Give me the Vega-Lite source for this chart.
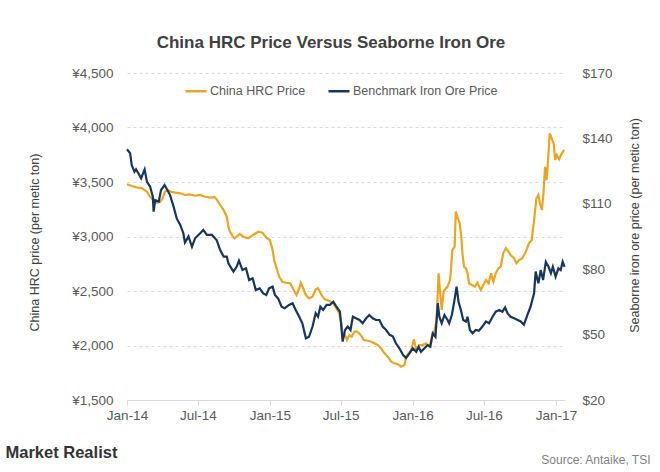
{
  "$schema": "https://vega.github.io/schema/vega-lite/v6.json",
  "width": 438,
  "height": 327,
  "autosize": {"type": "none"},
  "padding": {"left": 127, "top": 73, "right": 95, "bottom": 72},
  "background": "white",
  "title": {"text": "China HRC Price Versus Seaborne Iron Ore", "fontSize": 17, "font": "Liberation Sans", "fontWeight": "bold", "color": "#404040", "anchor": "middle", "frame": "group", "offset": 14, "dx": -15},
  "config": {"view": {"stroke": null}, "font": "Liberation Sans"},
  "datasets": {
    "hrc": [
      {"date": "2014-01-01", "series": "China HRC Price", "value": 3480},
      {"date": "2014-01-13", "series": "China HRC Price", "value": 3463},
      {"date": "2014-01-26", "series": "China HRC Price", "value": 3451},
      {"date": "2014-02-08", "series": "China HRC Price", "value": 3442},
      {"date": "2014-02-21", "series": "China HRC Price", "value": 3411},
      {"date": "2014-03-01", "series": "China HRC Price", "value": 3365},
      {"date": "2014-03-10", "series": "China HRC Price", "value": 3328},
      {"date": "2014-03-18", "series": "China HRC Price", "value": 3310},
      {"date": "2014-03-27", "series": "China HRC Price", "value": 3319},
      {"date": "2014-04-02", "series": "China HRC Price", "value": 3350},
      {"date": "2014-04-08", "series": "China HRC Price", "value": 3411},
      {"date": "2014-04-15", "series": "China HRC Price", "value": 3427},
      {"date": "2014-04-24", "series": "China HRC Price", "value": 3411},
      {"date": "2014-05-04", "series": "China HRC Price", "value": 3402},
      {"date": "2014-05-17", "series": "China HRC Price", "value": 3396},
      {"date": "2014-05-29", "series": "China HRC Price", "value": 3381},
      {"date": "2014-06-11", "series": "China HRC Price", "value": 3387},
      {"date": "2014-06-24", "series": "China HRC Price", "value": 3374},
      {"date": "2014-07-07", "series": "China HRC Price", "value": 3381},
      {"date": "2014-07-20", "series": "China HRC Price", "value": 3365},
      {"date": "2014-08-01", "series": "China HRC Price", "value": 3356},
      {"date": "2014-08-13", "series": "China HRC Price", "value": 3360},
      {"date": "2014-08-18", "series": "China HRC Price", "value": 3341},
      {"date": "2014-08-27", "series": "China HRC Price", "value": 3289},
      {"date": "2014-09-05", "series": "China HRC Price", "value": 3243},
      {"date": "2014-09-13", "series": "China HRC Price", "value": 3182},
      {"date": "2014-09-17", "series": "China HRC Price", "value": 3090},
      {"date": "2014-09-21", "series": "China HRC Price", "value": 3044},
      {"date": "2014-09-30", "series": "China HRC Price", "value": 2993},
      {"date": "2014-10-03", "series": "China HRC Price", "value": 2983},
      {"date": "2014-10-16", "series": "China HRC Price", "value": 3023},
      {"date": "2014-10-25", "series": "China HRC Price", "value": 2998},
      {"date": "2014-11-06", "series": "China HRC Price", "value": 2983},
      {"date": "2014-11-19", "series": "China HRC Price", "value": 3014},
      {"date": "2014-12-02", "series": "China HRC Price", "value": 3044},
      {"date": "2014-12-13", "series": "China HRC Price", "value": 3035},
      {"date": "2014-12-23", "series": "China HRC Price", "value": 2989},
      {"date": "2015-01-01", "series": "China HRC Price", "value": 2968},
      {"date": "2015-01-08", "series": "China HRC Price", "value": 2876},
      {"date": "2015-01-12", "series": "China HRC Price", "value": 2784},
      {"date": "2015-01-18", "series": "China HRC Price", "value": 2708},
      {"date": "2015-01-25", "series": "China HRC Price", "value": 2631},
      {"date": "2015-02-02", "series": "China HRC Price", "value": 2585},
      {"date": "2015-02-12", "series": "China HRC Price", "value": 2576},
      {"date": "2015-02-22", "series": "China HRC Price", "value": 2570},
      {"date": "2015-03-03", "series": "China HRC Price", "value": 2509},
      {"date": "2015-03-10", "series": "China HRC Price", "value": 2463},
      {"date": "2015-03-17", "series": "China HRC Price", "value": 2525},
      {"date": "2015-03-21", "series": "China HRC Price", "value": 2576},
      {"date": "2015-03-27", "series": "China HRC Price", "value": 2525},
      {"date": "2015-04-03", "series": "China HRC Price", "value": 2463},
      {"date": "2015-04-11", "series": "China HRC Price", "value": 2433},
      {"date": "2015-04-20", "series": "China HRC Price", "value": 2448},
      {"date": "2015-04-28", "series": "China HRC Price", "value": 2515},
      {"date": "2015-05-04", "series": "China HRC Price", "value": 2525},
      {"date": "2015-05-13", "series": "China HRC Price", "value": 2463},
      {"date": "2015-05-21", "series": "China HRC Price", "value": 2424},
      {"date": "2015-06-01", "series": "China HRC Price", "value": 2411},
      {"date": "2015-06-12", "series": "China HRC Price", "value": 2387},
      {"date": "2015-06-20", "series": "China HRC Price", "value": 2341},
      {"date": "2015-06-27", "series": "China HRC Price", "value": 2296},
      {"date": "2015-07-03", "series": "China HRC Price", "value": 2204},
      {"date": "2015-07-06", "series": "China HRC Price", "value": 2081},
      {"date": "2015-07-12", "series": "China HRC Price", "value": 2096},
      {"date": "2015-07-17", "series": "China HRC Price", "value": 2050},
      {"date": "2015-07-23", "series": "China HRC Price", "value": 2096},
      {"date": "2015-07-29", "series": "China HRC Price", "value": 2081},
      {"date": "2015-08-05", "series": "China HRC Price", "value": 2127},
      {"date": "2015-08-12", "series": "China HRC Price", "value": 2127},
      {"date": "2015-08-21", "series": "China HRC Price", "value": 2096},
      {"date": "2015-08-29", "series": "China HRC Price", "value": 2050},
      {"date": "2015-09-08", "series": "China HRC Price", "value": 2044},
      {"date": "2015-09-17", "series": "China HRC Price", "value": 2035},
      {"date": "2015-09-25", "series": "China HRC Price", "value": 2020},
      {"date": "2015-10-04", "series": "China HRC Price", "value": 2004},
      {"date": "2015-10-12", "series": "China HRC Price", "value": 1974},
      {"date": "2015-10-21", "series": "China HRC Price", "value": 1928},
      {"date": "2015-10-29", "series": "China HRC Price", "value": 1897},
      {"date": "2015-11-07", "series": "China HRC Price", "value": 1851},
      {"date": "2015-11-15", "series": "China HRC Price", "value": 1837},
      {"date": "2015-11-24", "series": "China HRC Price", "value": 1828},
      {"date": "2015-12-02", "series": "China HRC Price", "value": 1806},
      {"date": "2015-12-11", "series": "China HRC Price", "value": 1821},
      {"date": "2015-12-15", "series": "China HRC Price", "value": 1897},
      {"date": "2015-12-21", "series": "China HRC Price", "value": 1928},
      {"date": "2015-12-28", "series": "China HRC Price", "value": 1959},
      {"date": "2016-01-04", "series": "China HRC Price", "value": 2057},
      {"date": "2016-01-10", "series": "China HRC Price", "value": 1959},
      {"date": "2016-01-18", "series": "China HRC Price", "value": 2004},
      {"date": "2016-01-27", "series": "China HRC Price", "value": 2004},
      {"date": "2016-02-04", "series": "China HRC Price", "value": 2020},
      {"date": "2016-02-13", "series": "China HRC Price", "value": 1989},
      {"date": "2016-02-19", "series": "China HRC Price", "value": 2081},
      {"date": "2016-02-25", "series": "China HRC Price", "value": 2127},
      {"date": "2016-03-02", "series": "China HRC Price", "value": 2234},
      {"date": "2016-03-07", "series": "China HRC Price", "value": 2662},
      {"date": "2016-03-12", "series": "China HRC Price", "value": 2448},
      {"date": "2016-03-15", "series": "China HRC Price", "value": 2326},
      {"date": "2016-03-20", "series": "China HRC Price", "value": 2494},
      {"date": "2016-03-26", "series": "China HRC Price", "value": 2525},
      {"date": "2016-03-30", "series": "China HRC Price", "value": 2540},
      {"date": "2016-04-05", "series": "China HRC Price", "value": 2600},
      {"date": "2016-04-07", "series": "China HRC Price", "value": 2662},
      {"date": "2016-04-11", "series": "China HRC Price", "value": 2876},
      {"date": "2016-04-17", "series": "China HRC Price", "value": 2906},
      {"date": "2016-04-20", "series": "China HRC Price", "value": 3228},
      {"date": "2016-04-24", "series": "China HRC Price", "value": 3182},
      {"date": "2016-04-27", "series": "China HRC Price", "value": 3151},
      {"date": "2016-04-30", "series": "China HRC Price", "value": 3121},
      {"date": "2016-05-04", "series": "China HRC Price", "value": 2998},
      {"date": "2016-05-07", "series": "China HRC Price", "value": 2846},
      {"date": "2016-05-11", "series": "China HRC Price", "value": 2723},
      {"date": "2016-05-16", "series": "China HRC Price", "value": 2708},
      {"date": "2016-05-20", "series": "China HRC Price", "value": 2662},
      {"date": "2016-05-24", "series": "China HRC Price", "value": 2571},
      {"date": "2016-05-31", "series": "China HRC Price", "value": 2555},
      {"date": "2016-06-08", "series": "China HRC Price", "value": 2540},
      {"date": "2016-06-14", "series": "China HRC Price", "value": 2576},
      {"date": "2016-06-23", "series": "China HRC Price", "value": 2509},
      {"date": "2016-06-29", "series": "China HRC Price", "value": 2555},
      {"date": "2016-07-06", "series": "China HRC Price", "value": 2601},
      {"date": "2016-07-13", "series": "China HRC Price", "value": 2571},
      {"date": "2016-07-19", "series": "China HRC Price", "value": 2662},
      {"date": "2016-07-25", "series": "China HRC Price", "value": 2585},
      {"date": "2016-07-31", "series": "China HRC Price", "value": 2662},
      {"date": "2016-08-07", "series": "China HRC Price", "value": 2708},
      {"date": "2016-08-13", "series": "China HRC Price", "value": 2723},
      {"date": "2016-08-19", "series": "China HRC Price", "value": 2846},
      {"date": "2016-08-26", "series": "China HRC Price", "value": 2892},
      {"date": "2016-09-02", "series": "China HRC Price", "value": 2861},
      {"date": "2016-09-07", "series": "China HRC Price", "value": 2830},
      {"date": "2016-09-16", "series": "China HRC Price", "value": 2800},
      {"date": "2016-09-22", "series": "China HRC Price", "value": 2754},
      {"date": "2016-09-29", "series": "China HRC Price", "value": 2784},
      {"date": "2016-10-07", "series": "China HRC Price", "value": 2800},
      {"date": "2016-10-16", "series": "China HRC Price", "value": 2861},
      {"date": "2016-10-24", "series": "China HRC Price", "value": 2938},
      {"date": "2016-10-31", "series": "China HRC Price", "value": 2968},
      {"date": "2016-11-06", "series": "China HRC Price", "value": 3151},
      {"date": "2016-11-12", "series": "China HRC Price", "value": 3350},
      {"date": "2016-11-17", "series": "China HRC Price", "value": 3381},
      {"date": "2016-11-21", "series": "China HRC Price", "value": 3305},
      {"date": "2016-11-26", "series": "China HRC Price", "value": 3243},
      {"date": "2016-11-30", "series": "China HRC Price", "value": 3396},
      {"date": "2016-12-04", "series": "China HRC Price", "value": 3640},
      {"date": "2016-12-08", "series": "China HRC Price", "value": 3518},
      {"date": "2016-12-12", "series": "China HRC Price", "value": 3717},
      {"date": "2016-12-16", "series": "China HRC Price", "value": 3947},
      {"date": "2016-12-21", "series": "China HRC Price", "value": 3901},
      {"date": "2016-12-26", "series": "China HRC Price", "value": 3855},
      {"date": "2016-12-30", "series": "China HRC Price", "value": 3702},
      {"date": "2017-01-03", "series": "China HRC Price", "value": 3748},
      {"date": "2017-01-09", "series": "China HRC Price", "value": 3708},
      {"date": "2017-01-16", "series": "China HRC Price", "value": 3763},
      {"date": "2017-01-22", "series": "China HRC Price", "value": 3794}
    ],
    "ore": [
      {"date": "2014-01-01", "series": "Benchmark Iron Ore Price", "value": 135},
      {"date": "2014-01-09", "series": "Benchmark Iron Ore Price", "value": 133.2},
      {"date": "2014-01-13", "series": "Benchmark Iron Ore Price", "value": 127.8},
      {"date": "2014-01-20", "series": "Benchmark Iron Ore Price", "value": 124.7},
      {"date": "2014-01-24", "series": "Benchmark Iron Ore Price", "value": 125.8},
      {"date": "2014-01-30", "series": "Benchmark Iron Ore Price", "value": 124},
      {"date": "2014-02-06", "series": "Benchmark Iron Ore Price", "value": 121.7},
      {"date": "2014-02-15", "series": "Benchmark Iron Ore Price", "value": 125.8},
      {"date": "2014-02-21", "series": "Benchmark Iron Ore Price", "value": 120.1},
      {"date": "2014-03-01", "series": "Benchmark Iron Ore Price", "value": 117.9},
      {"date": "2014-03-08", "series": "Benchmark Iron Ore Price", "value": 113.3},
      {"date": "2014-03-10", "series": "Benchmark Iron Ore Price", "value": 106.4},
      {"date": "2014-03-14", "series": "Benchmark Iron Ore Price", "value": 111.7},
      {"date": "2014-03-23", "series": "Benchmark Iron Ore Price", "value": 111},
      {"date": "2014-03-29", "series": "Benchmark Iron Ore Price", "value": 116.3},
      {"date": "2014-04-07", "series": "Benchmark Iron Ore Price", "value": 118.6},
      {"date": "2014-04-13", "series": "Benchmark Iron Ore Price", "value": 116.7},
      {"date": "2014-04-21", "series": "Benchmark Iron Ore Price", "value": 114},
      {"date": "2014-04-30", "series": "Benchmark Iron Ore Price", "value": 108.7},
      {"date": "2014-05-08", "series": "Benchmark Iron Ore Price", "value": 103.3},
      {"date": "2014-05-17", "series": "Benchmark Iron Ore Price", "value": 100.3},
      {"date": "2014-05-25", "series": "Benchmark Iron Ore Price", "value": 96.5},
      {"date": "2014-05-29", "series": "Benchmark Iron Ore Price", "value": 92.2},
      {"date": "2014-06-07", "series": "Benchmark Iron Ore Price", "value": 95},
      {"date": "2014-06-16", "series": "Benchmark Iron Ore Price", "value": 90.3},
      {"date": "2014-06-24", "series": "Benchmark Iron Ore Price", "value": 94.2},
      {"date": "2014-07-07", "series": "Benchmark Iron Ore Price", "value": 96.5},
      {"date": "2014-07-15", "series": "Benchmark Iron Ore Price", "value": 98},
      {"date": "2014-07-24", "series": "Benchmark Iron Ore Price", "value": 95.7},
      {"date": "2014-08-06", "series": "Benchmark Iron Ore Price", "value": 95.7},
      {"date": "2014-08-18", "series": "Benchmark Iron Ore Price", "value": 93.4},
      {"date": "2014-08-27", "series": "Benchmark Iron Ore Price", "value": 88.8},
      {"date": "2014-09-05", "series": "Benchmark Iron Ore Price", "value": 85.8},
      {"date": "2014-09-13", "series": "Benchmark Iron Ore Price", "value": 85.8},
      {"date": "2014-09-17", "series": "Benchmark Iron Ore Price", "value": 82.7},
      {"date": "2014-09-30", "series": "Benchmark Iron Ore Price", "value": 78.9},
      {"date": "2014-10-08", "series": "Benchmark Iron Ore Price", "value": 81.1},
      {"date": "2014-10-14", "series": "Benchmark Iron Ore Price", "value": 83.9},
      {"date": "2014-10-23", "series": "Benchmark Iron Ore Price", "value": 79.6},
      {"date": "2014-11-01", "series": "Benchmark Iron Ore Price", "value": 80.4},
      {"date": "2014-11-09", "series": "Benchmark Iron Ore Price", "value": 75},
      {"date": "2014-11-18", "series": "Benchmark Iron Ore Price", "value": 75.8},
      {"date": "2014-11-26", "series": "Benchmark Iron Ore Price", "value": 70.5},
      {"date": "2014-12-06", "series": "Benchmark Iron Ore Price", "value": 71.2},
      {"date": "2014-12-15", "series": "Benchmark Iron Ore Price", "value": 68.9},
      {"date": "2014-12-23", "series": "Benchmark Iron Ore Price", "value": 68.2},
      {"date": "2014-12-30", "series": "Benchmark Iron Ore Price", "value": 71.2},
      {"date": "2015-01-08", "series": "Benchmark Iron Ore Price", "value": 72},
      {"date": "2015-01-14", "series": "Benchmark Iron Ore Price", "value": 68.2},
      {"date": "2015-01-22", "series": "Benchmark Iron Ore Price", "value": 66.6},
      {"date": "2015-01-31", "series": "Benchmark Iron Ore Price", "value": 62.8},
      {"date": "2015-02-08", "series": "Benchmark Iron Ore Price", "value": 62.1},
      {"date": "2015-02-19", "series": "Benchmark Iron Ore Price", "value": 63.6},
      {"date": "2015-02-28", "series": "Benchmark Iron Ore Price", "value": 64.4},
      {"date": "2015-03-08", "series": "Benchmark Iron Ore Price", "value": 61.3},
      {"date": "2015-03-17", "series": "Benchmark Iron Ore Price", "value": 58.2},
      {"date": "2015-03-25", "series": "Benchmark Iron Ore Price", "value": 55.2},
      {"date": "2015-04-03", "series": "Benchmark Iron Ore Price", "value": 48.3},
      {"date": "2015-04-11", "series": "Benchmark Iron Ore Price", "value": 49},
      {"date": "2015-04-20", "series": "Benchmark Iron Ore Price", "value": 53.7},
      {"date": "2015-04-28", "series": "Benchmark Iron Ore Price", "value": 59.8},
      {"date": "2015-05-04", "series": "Benchmark Iron Ore Price", "value": 58.2},
      {"date": "2015-05-10", "series": "Benchmark Iron Ore Price", "value": 62.8},
      {"date": "2015-05-17", "series": "Benchmark Iron Ore Price", "value": 61.3},
      {"date": "2015-05-26", "series": "Benchmark Iron Ore Price", "value": 63.6},
      {"date": "2015-06-03", "series": "Benchmark Iron Ore Price", "value": 63.6},
      {"date": "2015-06-12", "series": "Benchmark Iron Ore Price", "value": 65.1},
      {"date": "2015-06-20", "series": "Benchmark Iron Ore Price", "value": 62.8},
      {"date": "2015-06-29", "series": "Benchmark Iron Ore Price", "value": 60.5},
      {"date": "2015-07-06", "series": "Benchmark Iron Ore Price", "value": 46.8},
      {"date": "2015-07-12", "series": "Benchmark Iron Ore Price", "value": 52.1},
      {"date": "2015-07-19", "series": "Benchmark Iron Ore Price", "value": 53.7},
      {"date": "2015-07-26", "series": "Benchmark Iron Ore Price", "value": 52.1},
      {"date": "2015-08-01", "series": "Benchmark Iron Ore Price", "value": 58.2},
      {"date": "2015-08-09", "series": "Benchmark Iron Ore Price", "value": 57.5},
      {"date": "2015-08-18", "series": "Benchmark Iron Ore Price", "value": 56.7},
      {"date": "2015-08-26", "series": "Benchmark Iron Ore Price", "value": 55.2},
      {"date": "2015-09-04", "series": "Benchmark Iron Ore Price", "value": 57.5},
      {"date": "2015-09-12", "series": "Benchmark Iron Ore Price", "value": 59},
      {"date": "2015-09-21", "series": "Benchmark Iron Ore Price", "value": 57.5},
      {"date": "2015-09-29", "series": "Benchmark Iron Ore Price", "value": 56.7},
      {"date": "2015-10-08", "series": "Benchmark Iron Ore Price", "value": 56.7},
      {"date": "2015-10-16", "series": "Benchmark Iron Ore Price", "value": 53.7},
      {"date": "2015-10-25", "series": "Benchmark Iron Ore Price", "value": 52.1},
      {"date": "2015-11-03", "series": "Benchmark Iron Ore Price", "value": 49.9},
      {"date": "2015-11-11", "series": "Benchmark Iron Ore Price", "value": 49.2},
      {"date": "2015-11-19", "series": "Benchmark Iron Ore Price", "value": 46},
      {"date": "2015-11-28", "series": "Benchmark Iron Ore Price", "value": 43.7},
      {"date": "2015-12-07", "series": "Benchmark Iron Ore Price", "value": 40.7},
      {"date": "2015-12-15", "series": "Benchmark Iron Ore Price", "value": 39.2},
      {"date": "2015-12-24", "series": "Benchmark Iron Ore Price", "value": 41.5},
      {"date": "2016-01-01", "series": "Benchmark Iron Ore Price", "value": 43.7},
      {"date": "2016-01-10", "series": "Benchmark Iron Ore Price", "value": 42.1},
      {"date": "2016-01-16", "series": "Benchmark Iron Ore Price", "value": 44.4},
      {"date": "2016-01-22", "series": "Benchmark Iron Ore Price", "value": 42.1},
      {"date": "2016-01-31", "series": "Benchmark Iron Ore Price", "value": 43.7},
      {"date": "2016-02-08", "series": "Benchmark Iron Ore Price", "value": 45.2},
      {"date": "2016-02-15", "series": "Benchmark Iron Ore Price", "value": 44.4},
      {"date": "2016-02-21", "series": "Benchmark Iron Ore Price", "value": 50.6},
      {"date": "2016-02-28", "series": "Benchmark Iron Ore Price", "value": 49},
      {"date": "2016-03-05", "series": "Benchmark Iron Ore Price", "value": 64.4},
      {"date": "2016-03-09", "series": "Benchmark Iron Ore Price", "value": 58.2},
      {"date": "2016-03-15", "series": "Benchmark Iron Ore Price", "value": 55.2},
      {"date": "2016-03-22", "series": "Benchmark Iron Ore Price", "value": 59},
      {"date": "2016-03-30", "series": "Benchmark Iron Ore Price", "value": 56.7},
      {"date": "2016-04-03", "series": "Benchmark Iron Ore Price", "value": 55.2},
      {"date": "2016-04-10", "series": "Benchmark Iron Ore Price", "value": 59},
      {"date": "2016-04-16", "series": "Benchmark Iron Ore Price", "value": 65.1},
      {"date": "2016-04-22", "series": "Benchmark Iron Ore Price", "value": 72},
      {"date": "2016-04-27", "series": "Benchmark Iron Ore Price", "value": 65.1},
      {"date": "2016-05-03", "series": "Benchmark Iron Ore Price", "value": 61.3},
      {"date": "2016-05-09", "series": "Benchmark Iron Ore Price", "value": 56.7},
      {"date": "2016-05-16", "series": "Benchmark Iron Ore Price", "value": 56},
      {"date": "2016-05-20", "series": "Benchmark Iron Ore Price", "value": 58.2},
      {"date": "2016-05-26", "series": "Benchmark Iron Ore Price", "value": 52.1},
      {"date": "2016-06-02", "series": "Benchmark Iron Ore Price", "value": 50.6},
      {"date": "2016-06-10", "series": "Benchmark Iron Ore Price", "value": 52.1},
      {"date": "2016-06-18", "series": "Benchmark Iron Ore Price", "value": 51.8},
      {"date": "2016-06-27", "series": "Benchmark Iron Ore Price", "value": 53.7},
      {"date": "2016-07-06", "series": "Benchmark Iron Ore Price", "value": 56},
      {"date": "2016-07-14", "series": "Benchmark Iron Ore Price", "value": 55.2},
      {"date": "2016-07-23", "series": "Benchmark Iron Ore Price", "value": 58.2},
      {"date": "2016-07-31", "series": "Benchmark Iron Ore Price", "value": 60.5},
      {"date": "2016-08-09", "series": "Benchmark Iron Ore Price", "value": 61.3},
      {"date": "2016-08-17", "series": "Benchmark Iron Ore Price", "value": 60.5},
      {"date": "2016-08-24", "series": "Benchmark Iron Ore Price", "value": 62.5},
      {"date": "2016-08-30", "series": "Benchmark Iron Ore Price", "value": 59.8},
      {"date": "2016-09-07", "series": "Benchmark Iron Ore Price", "value": 58.2},
      {"date": "2016-09-16", "series": "Benchmark Iron Ore Price", "value": 57.5},
      {"date": "2016-09-25", "series": "Benchmark Iron Ore Price", "value": 56.7},
      {"date": "2016-10-03", "series": "Benchmark Iron Ore Price", "value": 56},
      {"date": "2016-10-11", "series": "Benchmark Iron Ore Price", "value": 54.5},
      {"date": "2016-10-20", "series": "Benchmark Iron Ore Price", "value": 59},
      {"date": "2016-10-28", "series": "Benchmark Iron Ore Price", "value": 62.8},
      {"date": "2016-11-06", "series": "Benchmark Iron Ore Price", "value": 68.9},
      {"date": "2016-11-10", "series": "Benchmark Iron Ore Price", "value": 78.9},
      {"date": "2016-11-17", "series": "Benchmark Iron Ore Price", "value": 73.5},
      {"date": "2016-11-23", "series": "Benchmark Iron Ore Price", "value": 79.6},
      {"date": "2016-11-29", "series": "Benchmark Iron Ore Price", "value": 75},
      {"date": "2016-12-06", "series": "Benchmark Iron Ore Price", "value": 83.4},
      {"date": "2016-12-13", "series": "Benchmark Iron Ore Price", "value": 81.1},
      {"date": "2016-12-19", "series": "Benchmark Iron Ore Price", "value": 78.1},
      {"date": "2016-12-24", "series": "Benchmark Iron Ore Price", "value": 81.1},
      {"date": "2016-12-31", "series": "Benchmark Iron Ore Price", "value": 76.6},
      {"date": "2017-01-07", "series": "Benchmark Iron Ore Price", "value": 80.4},
      {"date": "2017-01-13", "series": "Benchmark Iron Ore Price", "value": 79.6},
      {"date": "2017-01-18", "series": "Benchmark Iron Ore Price", "value": 83.4},
      {"date": "2017-01-23", "series": "Benchmark Iron Ore Price", "value": 81.1}
    ]
  },
  "layer": [
    {
      "data": {"name": "hrc"},
      "mark": {"type": "line", "strokeWidth": 2.2},
      "encoding": {
        "x": {
          "field": "date", "type": "temporal",
          "scale": {"domain": [{"year": 2014, "month": 1, "date": 1}, {"year": 2017, "month": 1, "date": 24}]},
          "axis": {
            "orient": "bottom",
            "values": [{"year": 2014, "month": 1, "date": 1}, {"year": 2014, "month": 7, "date": 1}, {"year": 2015, "month": 1, "date": 1}, {"year": 2015, "month": 7, "date": 1}, {"year": 2016, "month": 1, "date": 1}, {"year": 2016, "month": 7, "date": 1}, {"year": 2017, "month": 1, "date": 1}],
            "format": "%b-%y", "labelFontSize": 13.5, "labelColor": "#595959", "labelFlush": false, "labelOverlap": false,
            "grid": false, "domainColor": "#D9D9D9", "tickColor": "#D9D9D9", "tickSize": 5, "labelPadding": 3,
            "title": "Source: Antaike, TSI", "titleFontSize": 12, "titleFontWeight": "normal", "titleColor": "#7F7F7F",
            "titleX": 523, "titleY": 63, "titleAlign": "right", "titleBaseline": "alphabetic", "titleAnchor": "end"
          }
        },
        "y": {
          "field": "value", "type": "quantitative",
          "scale": {"domain": [1500, 4500], "nice": false, "zero": false},
          "axis": {
            "orient": "left", "values": [1500, 2000, 2500, 3000, 3500, 4000, 4500],
            "labelExpr": "'¥' + format(datum.value, ',')",
            "grid": true, "gridDash": [3, 3], "gridColor": "#D9D9D9", "domain": false, "ticks": false,
            "labelPadding": 14, "labelFontSize": 13.5, "labelColor": "#595959",
            "title": "China HRC price (per metic ton)", "titleFontSize": 12.5, "titleFontWeight": "normal", "titleColor": "#404040",
            "titleX": -93, "titleY": 169, "titleAngle": -90, "titleBaseline": "middle", "titleAlign": "center"
          }
        },
        "color": {
          "field": "series", "type": "nominal",
          "scale": {"domain": ["China HRC Price", "Benchmark Iron Ore Price"], "range": ["#E8A623", "#17365E"]},
          "legend": {"title": null, "orient": "none", "legendX": 57, "legendY": 6, "direction": "horizontal", "symbolType": "stroke", "symbolSize": 441, "symbolStrokeWidth": 2.5, "labelFontSize": 12.5, "labelColor": "#595959", "columnPadding": 17, "labelOffset": 2}
        }
      }
    },
    {
      "data": {"name": "ore"},
      "mark": {"type": "line", "strokeWidth": 2.2},
      "encoding": {
        "x": {
          "field": "date", "type": "temporal",
          "axis": {
            "orient": "bottom",
            "labels": false, "ticks": false, "domain": false, "grid": false,
            "title": "Market Realist", "titleFontSize": 16.5, "titleFontWeight": "bold", "titleColor": "#333333",
            "titleX": -122, "titleY": 57, "titleAlign": "left", "titleBaseline": "alphabetic", "titleAnchor": "start"
          }
        },
        "y": {
          "field": "value", "type": "quantitative",
          "scale": {"domain": [20, 170], "nice": false, "zero": false},
          "axis": {
            "orient": "right", "values": [20, 50, 80, 110, 140, 170],
            "labelExpr": "'$' + datum.value",
            "grid": false, "domain": false, "ticks": false,
            "labelPadding": 17, "labelFontSize": 13.5, "labelColor": "#595959",
            "title": "Seaborne iron ore price (per metic ton)", "titleFontSize": 12.5, "titleFontWeight": "normal", "titleColor": "#404040",
            "titleX": 69, "titleY": 152, "titleAngle": -90, "titleBaseline": "middle", "titleAlign": "center"
          }
        },
        "color": {
          "field": "series", "type": "nominal",
          "legend": {"title": null, "orient": "none", "legendX": 57, "legendY": 6, "direction": "horizontal", "symbolType": "stroke", "symbolSize": 441, "symbolStrokeWidth": 2.5, "labelFontSize": 12.5, "labelColor": "#595959", "columnPadding": 17, "labelOffset": 2}
        }
      }
    }
  ],
  "resolve": {"scale": {"y": "independent"}, "axis": {"x": "independent"}}
}
